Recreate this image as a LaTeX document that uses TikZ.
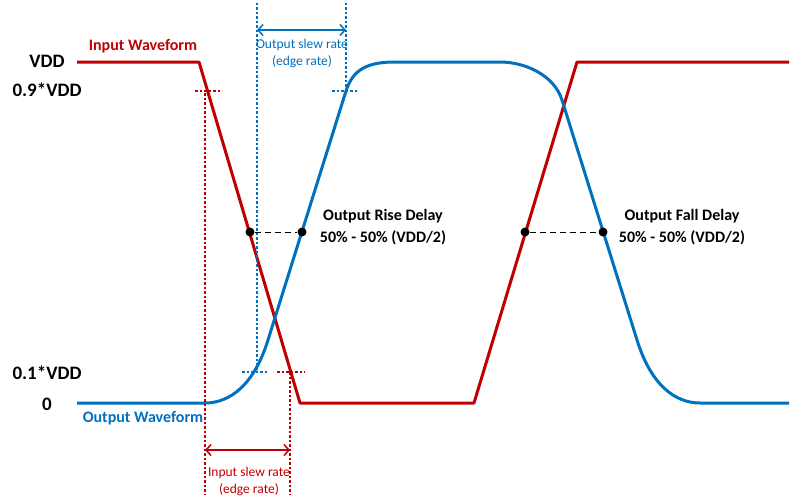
\documentclass[tikz,border=0pt]{standalone}
\usepackage{fontspec}
\setmainfont{Carlito}
\usetikzlibrary{arrows.meta}
\definecolor{inred}{RGB}{192,0,0}
\definecolor{outblue}{RGB}{0,112,192}
\begin{document}
\begin{tikzpicture}[x=1pt,y=-1pt,
  every node/.style={font=\bfseries\fontsize{16}{22}\selectfont},
  level/.style={font=\bfseries\fontsize{19}{22}\selectfont},
  slewtext/.style={font=\fontsize{13.5}{17}\selectfont,align=center},
  wave/.style={line width=3pt,line join=round},
  guide/.style={line width=1.8pt,dash pattern=on 2.5pt off 2pt},
  slew/.style={line width=1.5pt,{Straight Barb[length=5pt,width=11pt]}-{Straight Barb[length=5pt,width=11pt]}},
  dot/.style={circle,fill=black,inner sep=0pt,minimum size=9pt}]
 \useasboundingbox (0,0) rectangle (791,503);
 % levels
 \node[level] (vdd) at (47,61) {VDD};
 \node[level] (v90) at (47,90) {0.9*VDD};
 \node[level] (v10) at (47,373) {0.1*VDD};
 \node[level] (v0) at (47,404) {0};
 % waveforms
 \draw[inred,wave] (77,62) -- (199,62) -- (300,403) -- (474,403) -- (577,62) -- (789,62);
 \draw[outblue,wave] (77,403) -- (205,403) .. controls (230,403) and (254,385) .. (268,340)
   -- (346,91) .. controls (353,69) and (368,62) .. (395,62) -- (500,62)
   .. controls (525,62) and (554,75) .. (562,100) -- (637,340)
   .. controls (651,385) and (675,403) .. (700,403) -- (789,403);
 \node[inred] (inwave) at (143,46) {Input Waveform};
 \node[outblue] (outwave) at (143,418) {Output Waveform};
 % slew guides
 \draw[inred,guide] (205,93) -- (205,495);
 \draw[inred,guide] (195,91) -- (222,91);
 \draw[inred,guide] (290,372) -- (290,495);
 \draw[inred,guide] (277,372) -- (305,372);
 \draw[outblue,guide] (257,3) -- (257,372);
 \draw[outblue,guide] (242,372) -- (267,372);
 \draw[outblue,guide] (346,3) -- (346,91);
 \draw[outblue,guide] (332,91) -- (357,91);
 \coordinate (os1) at (257,30);
 \coordinate (os2) at (346,30);
 \coordinate (is1) at (205,450);
 \coordinate (is2) at (290,450);
 \draw[outblue,slew] (os1) -- (os2);
 \draw[inred,slew] (is1) -- (is2);
 \node[outblue,slewtext] (oslew) at (302,53) {Output slew rate\\(edge rate)};
 \node[inred,slewtext] (islew) at (249,481) {Input slew rate\\(edge rate)};
 % delays
 \node[dot] (rise1) at (250,232) {};
 \node[dot] (rise2) at (302,232) {};
 \node[dot] (fall1) at (525,232) {};
 \node[dot] (fall2) at (603,232) {};
 \draw[dash pattern=on 6pt off 4pt] (rise1) -- (rise2);
 \draw[dash pattern=on 6pt off 4pt] (fall1) -- (fall2);
 \node[align=center] (risetxt) at (383,227) {Output Rise Delay\\50\% - 50\% (VDD/2)};
 \node[align=center] (falltxt) at (682,227) {Output Fall Delay\\50\% - 50\% (VDD/2)};
\end{tikzpicture}
\end{document}
